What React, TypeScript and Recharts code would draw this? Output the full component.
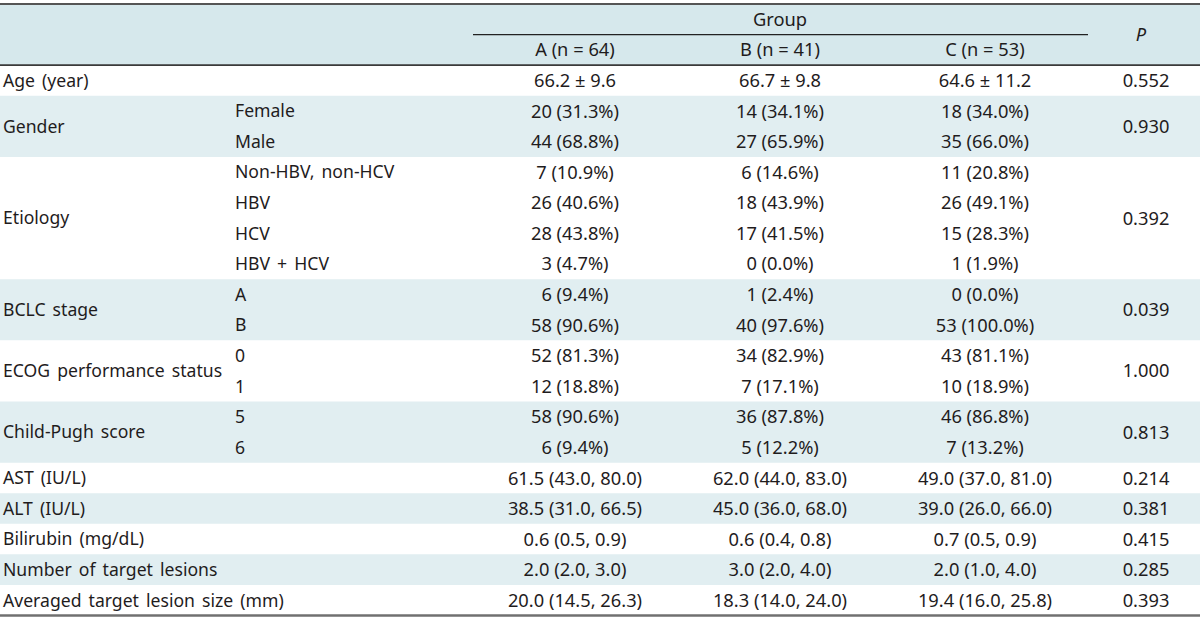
import React from 'react';
import { ComposedChart, XAxis, YAxis, Scatter, ReferenceArea, ReferenceLine } from 'recharts';

// ---- data ----
const groupLabels = [
  'Age (year)', 'Gender', 'Etiology', 'BCLC stage', 'ECOG performance status', 'Child-Pugh score',
  'AST (IU/L)', 'ALT (IU/L)', 'Bilirubin (mg/dL)', 'Number of target lesions', 'Averaged target lesion size (mm)',
];
const groupSpans = [1, 2, 4, 2, 2, 2, 1, 1, 1, 1, 1];
const pValues = ['0.552', '0.930', '0.392', '0.039', '1.000', '0.813', '0.214', '0.381', '0.415', '0.285', '0.393'];
const subLabels = [
  '', 'Female', 'Male', 'Non-HBV, non-HCV', 'HBV', 'HCV', 'HBV + HCV', 'A', 'B', '0', '1', '5', '6',
  '', '', '', '', '',
];
const groupA = [
  '66.2 ± 9.6', '20 (31.3%)', '44 (68.8%)', '7 (10.9%)', '26 (40.6%)', '28 (43.8%)', '3 (4.7%)',
  '6 (9.4%)', '58 (90.6%)', '52 (81.3%)', '12 (18.8%)', '58 (90.6%)', '6 (9.4%)',
  '61.5 (43.0, 80.0)', '38.5 (31.0, 66.5)', '0.6 (0.5, 0.9)', '2.0 (2.0, 3.0)', '20.0 (14.5, 26.3)',
];
const groupB = [
  '66.7 ± 9.8', '14 (34.1%)', '27 (65.9%)', '6 (14.6%)', '18 (43.9%)', '17 (41.5%)', '0 (0.0%)',
  '1 (2.4%)', '40 (97.6%)', '34 (82.9%)', '7 (17.1%)', '36 (87.8%)', '5 (12.2%)',
  '62.0 (44.0, 83.0)', '45.0 (36.0, 68.0)', '0.6 (0.4, 0.8)', '3.0 (2.0, 4.0)', '18.3 (14.0, 24.0)',
];
const groupC = [
  '64.6 ± 11.2', '18 (34.0%)', '35 (66.0%)', '11 (20.8%)', '26 (49.1%)', '15 (28.3%)', '1 (1.9%)',
  '0 (0.0%)', '53 (100.0%)', '43 (81.1%)', '10 (18.9%)', '46 (86.8%)', '7 (13.2%)',
  '49.0 (37.0, 81.0)', '39.0 (26.0, 66.0)', '0.7 (0.5, 0.9)', '2.0 (1.0, 4.0)', '19.4 (16.0, 25.8)',
];
const superHeader = 'Group';
const columnHeaders = ['A (n = 64)', 'B (n = 41)', 'C (n = 53)'];
const pHeader = 'P';

// ---- layout ----
const W = 1200;
const H = 622;
const ROWS = groupA.length;
const COL_X = { label: 3, sub: 235, a: 575, b: 780, c: 985, p: 1146 };
const GROUP_LINE = [473, 1088];
const FONT = '"Noto Sans", "Liberation Sans", sans-serif';
const FS = 18.3;
const FS_LABEL = 17.6;
const TEXT = '#1f1c1d';
const HEADER_BG = '#d6e8ec';
const BAND_BG = '#e1eef1';

// build group starts
const groupStarts: number[] = [];
groupSpans.reduce((acc, s) => { groupStarts.push(acc); return acc + s; }, 0);

const labelData = groupLabels.map((t, i) => ({ x: COL_X.label, y: groupStarts[i] + groupSpans[i] / 2, t }));
const pData = pValues.map((t, i) => ({ x: COL_X.p, y: groupStarts[i] + groupSpans[i] / 2, t }));
const subData = subLabels.map((t, i) => ({ x: COL_X.sub, y: i + 0.5, t })).filter((d) => d.t);
const aData = groupA.map((t, i) => ({ x: COL_X.a, y: i + 0.5, t }));
const bData = groupB.map((t, i) => ({ x: COL_X.b, y: i + 0.5, t }));
const cData = groupC.map((t, i) => ({ x: COL_X.c, y: i + 0.5, t }));
const headData = [
  { x: (COL_X.a + COL_X.c) / 2, y: -1.5, t: superHeader },
  { x: COL_X.a, y: -0.5, t: columnHeaders[0] },
  { x: COL_X.b, y: -0.5, t: columnHeaders[1] },
  { x: COL_X.c, y: -0.5, t: columnHeaders[2] },
];
const pHeadData = [{ x: COL_X.p - 5, y: -1, t: pHeader }];

const makeShape = (anchor: 'start' | 'middle' | 'end', italic = false, fs = FS, wordSpacing = 0) => (props: any) => {
  const { cx, cy, payload } = props;
  return (
    <text
      x={cx}
      y={cy}
      dy="0.36em"
      textAnchor={anchor}
      fontFamily={FONT}
      fontSize={fs}
      fontStyle={italic ? 'italic' : 'normal'}
      fill={TEXT}
      style={{ wordSpacing: `${wordSpacing}px` }}
    >
      {payload.t}
    </text>
  );
};

const shadedGroups = groupLabels.map((_, i) => i).filter((i) => i % 2 === 1);

export default function App() {
  return (
    <div style={{ position: 'absolute', left: 0, top: 0, background: '#fff' }}>
      <ComposedChart width={W} height={H} margin={{ top: 4, right: 0, bottom: 6.5, left: 0 }}>
        <XAxis type="number" dataKey="x" domain={[0, W]} hide allowDataOverflow />
        <YAxis type="number" dataKey="y" domain={[-2, ROWS]} reversed hide allowDataOverflow />
        <ReferenceArea x1={0} x2={W} y1={-2} y2={0} fill={HEADER_BG} fillOpacity={1} stroke="none" />
        {shadedGroups.map((g) => (
          <ReferenceArea
            key={g}
            x1={0}
            x2={W}
            y1={groupStarts[g]}
            y2={groupStarts[g] + groupSpans[g]}
            fill={BAND_BG}
            fillOpacity={1}
            stroke="none"
          />
        ))}
        <ReferenceLine y={-2} stroke="#555" strokeWidth={2} />
        <ReferenceLine y={0} stroke="#3a3a3a" strokeWidth={1.6} />
        <ReferenceLine y={ROWS} stroke="#707070" strokeWidth={2.6} />
        <ReferenceLine
          segment={[{ x: GROUP_LINE[0], y: -1 }, { x: GROUP_LINE[1], y: -1 }]}
          stroke="#222"
          strokeWidth={1.3}
        />
        <Scatter data={headData} shape={makeShape('middle')} isAnimationActive={false} />
        <Scatter data={pHeadData} shape={makeShape('middle', true)} isAnimationActive={false} />
        <Scatter data={labelData} shape={makeShape('start', false, FS_LABEL, 2.5)} isAnimationActive={false} />
        <Scatter data={subData} shape={makeShape('start', false, FS_LABEL, 2.5)} isAnimationActive={false} />
        <Scatter data={aData} shape={makeShape('middle')} isAnimationActive={false} />
        <Scatter data={bData} shape={makeShape('middle')} isAnimationActive={false} />
        <Scatter data={cData} shape={makeShape('middle')} isAnimationActive={false} />
        <Scatter data={pData} shape={makeShape('middle')} isAnimationActive={false} />
      </ComposedChart>
    </div>
  );
}
